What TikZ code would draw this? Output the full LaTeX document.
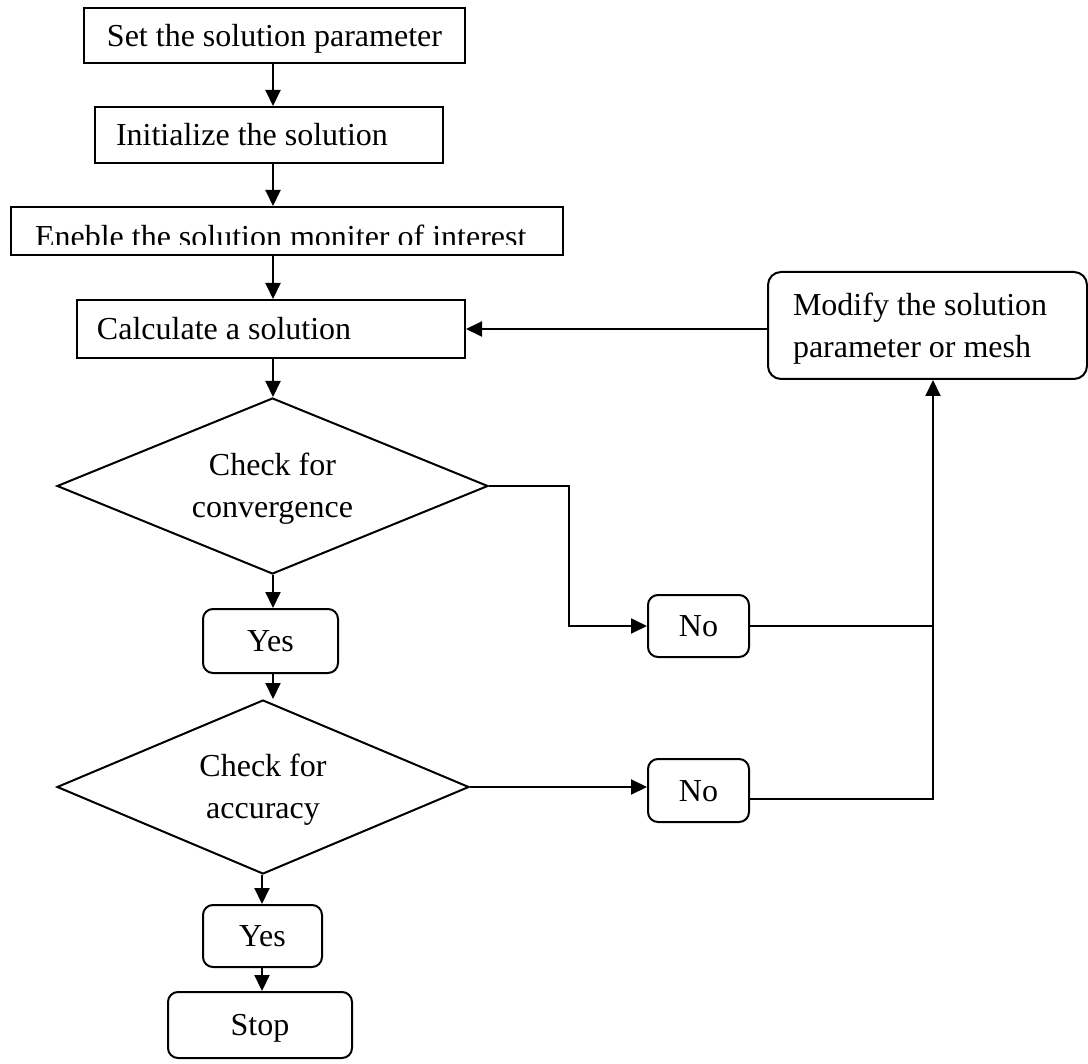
\documentclass[tikz,border=0pt]{standalone}
\usepackage{fontspec}
\setmainfont{Liberation Serif}
\usetikzlibrary{shapes.geometric,arrows.meta}
\begin{document}
\begin{tikzpicture}[x=0.5pt, y=-0.5pt, line width=1pt,
  every node/.style={font=\fontsize{16}{21}\selectfont},
  box/.style={draw, rectangle, inner sep=0pt, text height=10.6pt, text depth=0pt},
  rbox/.style={box, rounded corners=5pt},
  decision/.style={draw, diamond, aspect=2.4, inner sep=0pt, text width=90pt, align=flush center, text height=10.6pt, text depth=21pt},
  arr/.style={-{Triangle[length=8pt,width=7.5pt]}}]
\useasboundingbox (0,0) rectangle (1088,1064);

\coordinate (spine) at (273,0);
\coordinate (spinetwo) at (262,0);
\coordinate (jog) at (569,0);
\coordinate (rail) at (933,0);

\node [box, minimum width=190.5pt, minimum height=27.5pt] (set) at (274.5,35.5) {Set the solution parameter};
\node [box, minimum width=174pt, minimum height=28pt, inner xsep=10.5pt, text width=153pt, align=flush left] (init) at (269,135) {Initialize the solution};
\node [box, minimum width=276pt, minimum height=24pt] (enable) at (287,231) {};
\begin{scope}
\clip (enable.north west) rectangle (563,245);
\node [anchor=base west, inner sep=0pt] (enabletext) at (34,247.5) {Eneble the solution moniter of interest};
\end{scope}
\node [box, minimum width=194pt, minimum height=29pt, inner xsep=10pt, text width=174pt, align=flush left] (calc) at (271,329) {Calculate a solution};
\node [rbox, rounded corners=6.5pt, minimum width=159.5pt, minimum height=53.5pt, inner xsep=12.5pt, text width=134.5pt, align=flush left, text depth=21pt] (modify) at (927.5,325.5) {Modify the solution\\parameter or mesh};

\node [decision, minimum width=215.5pt, minimum height=88pt] (conv) at (272.5,486) {Check for\\convergence};
\node [rbox, minimum width=67.5pt, minimum height=32pt] (yesone) at (270.5,641) {Yes};
\node [rbox, minimum width=50.5pt, minimum height=31pt] (noone) at (698.5,626) {No};
\node [decision, minimum width=206pt, minimum height=87pt] (acc) at (263,787) {Check for\\accuracy};
\node [rbox, minimum width=50.5pt, minimum height=31.5pt] (notwo) at (698.5,790.5) {No};
\node [rbox, minimum width=59.5pt, minimum height=31pt] (yestwo) at (262.5,936) {Yes};
\node [rbox, minimum width=92pt, minimum height=33pt] (stop) at (260,1025) {Stop};

\draw [arr] (spine |- set.south) -- (spine |- init.north);
\draw [arr] (spine |- init.south) -- (spine |- enable.north);
\draw [arr] (spine |- enable.south) -- (spine |- calc.north);
\draw [arr] (spine |- calc.south) -- (spine |- conv.north);
\draw [arr] (spine |- conv.south) -- (spine |- yesone.north);
\draw [arr] (spine |- yesone.south) -- (spine |- acc.north);
\draw [arr] (spinetwo |- acc.south) -- (spinetwo |- yestwo.north);
\draw [arr] (spinetwo |- yestwo.south) -- (spinetwo |- stop.north);

\draw [arr] (conv.east) -- (conv.east -| jog) |- (noone.west);
\draw [arr] (acc.east) -- (acc.east -| notwo.west);
\draw (noone.east) -- (noone.east -| rail);
\draw [arr] ([yshift=-4.25pt]notwo.east) -| (rail |- modify.south);
\draw [arr] (modify.west |- calc.east) -- (calc.east);
\end{tikzpicture}
\end{document}
